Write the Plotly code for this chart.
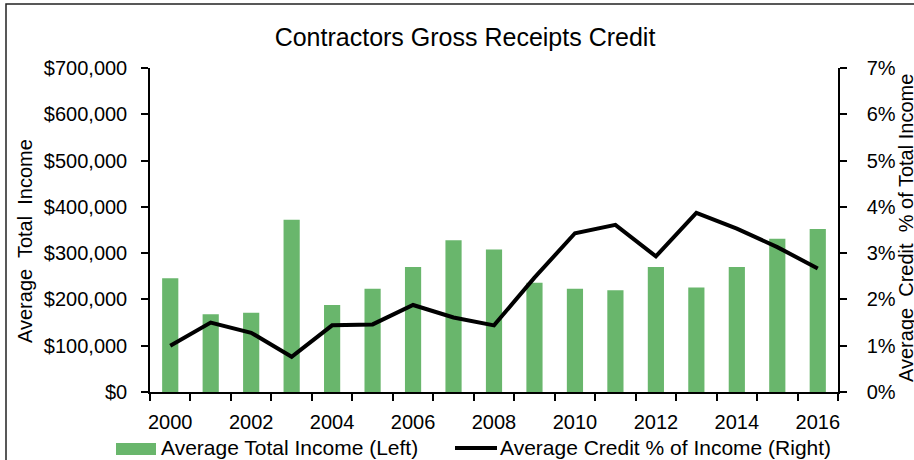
import plotly.graph_objects as go

years = list(range(2000, 2017))
avg_total_income = [246000, 168000, 171000, 372000, 188000, 223000, 270000, 328000, 308000,
                    236000, 223000, 220000, 270000, 226000, 270000, 331000, 352000]
avg_credit_pct = [1.00, 1.50, 1.28, 0.76, 1.44, 1.46, 1.88, 1.61, 1.44,
                  2.47, 3.43, 3.61, 2.93, 3.87, 3.53, 3.13, 2.67]
x_tick_years = list(range(2000, 2017, 2))
left_ticks = list(range(0, 700001, 100000))
right_ticks = list(range(0, 8))
left_tick_text = ["${:,}".format(v) for v in left_ticks]
right_tick_text = ["{}%".format(v) for v in right_ticks]

FONT = "Liberation Sans, Arial, sans-serif"
GREEN = "#69B66C"

# plot-area geometry (pixels) used to place decorations
L, R, T, B = 150, 838, 68, 392
W, H = R - L, B - T
def px(x):
    return (x - L) / W
def py(y):
    return (B - y) / H

fig = go.Figure()
fig.add_trace(go.Bar(x=years, y=avg_total_income, name="Average Total Income (Left)",
                     marker=dict(color=GREEN, line=dict(width=0)), width=0.4,
                     showlegend=False, yaxis="y"))
fig.add_trace(go.Scatter(x=years, y=avg_credit_pct, name="Average Credit % of Income (Right)",
                         mode="lines", line=dict(color="black", width=4),
                         showlegend=False, yaxis="y2"))

axis_common = dict(showgrid=False, zeroline=False, showline=True, linecolor="black",
                   linewidth=1.5, tickcolor="black", tickfont=dict(family=FONT, size=20, color="black"))

fig.update_layout(
    width=914, height=460,
    margin=dict(l=L, r=914 - R, t=T, b=460 - B),
    paper_bgcolor="white", plot_bgcolor="white",
    font=dict(family=FONT, color="black"),
    title=dict(text="Contractors Gross Receipts Credit", font=dict(family=FONT, size=25, color="black"),
               x=465 / 914, xanchor="center", y=1 - 37 / 460, yanchor="middle",
               xref="container", yref="container"),
    xaxis=dict(axis_common, range=[1999.5, 2016.5], tickmode="array",
               tickvals=x_tick_years, ticktext=[str(y) for y in x_tick_years],
               ticks="", ticklabelstandoff=11,
               minor=dict(tickmode="linear", tick0=1999.5, dtick=1, ticks="outside",
                          ticklen=7, tickcolor="black", tickwidth=1.5)),
    yaxis=dict(axis_common, range=[0, 700000], tickmode="array", tickvals=left_ticks,
               ticktext=left_tick_text, ticks="outside", ticklen=7, tickwidth=1.5,
               ticklabelstandoff=10),
    yaxis2=dict(axis_common, range=[0, 7], tickmode="array", tickvals=right_ticks,
                ticktext=right_tick_text, overlaying="y", side="right", ticks="outside", ticklen=7,
                tickwidth=1.5, ticklabelstandoff=16),
    bargap=0.6,
)

# axis titles
fig.add_annotation(text="Average  Total  Income", textangle=-90, xref="paper", yref="paper",
                   x=px(25), y=py(241), showarrow=False, xanchor="center", yanchor="middle",
                   font=dict(family=FONT, size=20, color="black"))
fig.add_annotation(text="Average  Credit  % of Total Income", textangle=-90, xref="paper", yref="paper",
                   x=px(906), y=py(228), showarrow=False, xanchor="center", yanchor="middle",
                   font=dict(family=FONT, size=20, color="black"))

# manual legend
fig.add_shape(type="rect", xref="paper", yref="paper", x0=px(116), x1=px(156), y0=py(455), y1=py(443),
              fillcolor=GREEN, line=dict(width=0))
fig.add_annotation(text="Average Total Income (Left)", xref="paper", yref="paper", x=px(159), y=py(448),
                   showarrow=False, xanchor="left", yanchor="middle",
                   font=dict(family=FONT, size=21, color="black"))
fig.add_shape(type="line", xref="paper", yref="paper", x0=px(455), x1=px(497), y0=py(448), y1=py(448),
              line=dict(color="black", width=4))
fig.add_annotation(text="Average Credit % of Income (Right)", xref="paper", yref="paper", x=px(498), y=py(448),
                   showarrow=False, xanchor="left", yanchor="middle",
                   font=dict(family=FONT, size=21, color="black"))

# chart frame
fig.add_shape(type="rect", xref="paper", yref="paper", x0=px(6), x1=px(1000), y0=py(600), y1=py(4),
              line=dict(color="#222222", width=1.5), fillcolor="rgba(0,0,0,0)", layer="below")

fig.write_html("out.html", config={"displayModeBar": False},
               post_script="document.body.style.margin='0';document.body.style.overflow='hidden';")
